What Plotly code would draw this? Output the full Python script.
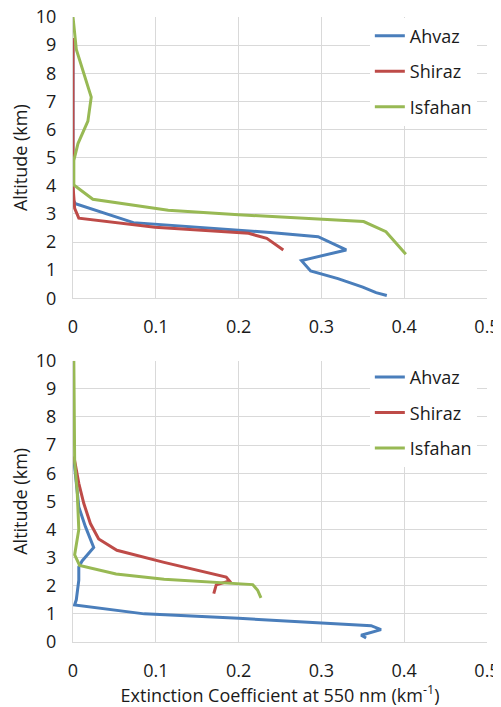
import plotly.graph_objects as go
from plotly.subplots import make_subplots

# ---- data: top panel ----
top_ahvaz_x = [0, 0, 0.003, 0.073, 0.238, 0.296, 0.330, 0.276, 0.287, 0.320, 0.350, 0.366, 0.379]
top_ahvaz_y = [9.25, 3.5, 3.36, 2.69, 2.34, 2.19, 1.72, 1.34, 0.97, 0.70, 0.40, 0.20, 0.10]
top_shiraz_x = [0, 0, 0.002, 0.007, 0.099, 0.212, 0.234, 0.254]
top_shiraz_y = [9.25, 4.0, 3.2, 2.85, 2.53, 2.31, 2.13, 1.72]
top_isfahan_x = [0, 0.004, 0.022, 0.018, 0.006, 0.001, 0.001, 0.024, 0.115, 0.200, 0.351, 0.378, 0.402]
top_isfahan_y = [10, 8.85, 7.15, 6.30, 5.50, 4.90, 4.03, 3.52, 3.13, 2.97, 2.73, 2.37, 1.57]

# ---- data: bottom panel ----
bot_ahvaz_x = [0.001, 0.007, 0.015, 0.025, 0.011, 0.007, 0.007, 0.004, 0.002, 0.086, 0.200, 0.360, 0.372, 0.348, 0.354]
bot_ahvaz_y = [6.5, 4.8, 4.1, 3.36, 2.88, 2.67, 2.2, 1.5, 1.32, 1.0, 0.84, 0.58, 0.44, 0.24, 0.14]
bot_shiraz_x = [0.001, 0.007, 0.013, 0.021, 0.031, 0.053, 0.110, 0.185, 0.189, 0.173, 0.170]
bot_shiraz_y = [6.6, 5.64, 4.93, 4.21, 3.66, 3.26, 2.83, 2.31, 2.17, 2.03, 1.72]
bot_isfahan_x = [0.001, 0.002, 0.005, 0.007, 0.002, 0.008, 0.052, 0.110, 0.217, 0.223, 0.227]
bot_isfahan_y = [10, 6.4, 5.4, 4.0, 3.1, 2.72, 2.42, 2.23, 2.04, 1.84, 1.57]

names = ["Ahvaz", "Shiraz", "Isfahan"]
colors = ["#4A7EBB", "#BE4B48", "#98B954"]
x_ticks = [0, 0.1, 0.2, 0.3, 0.4, 0.5]
x_ticktext = ["0", "0.1", "0.2", "0.3", "0.4", "0.5"]
y_ticks = list(range(0, 11))

FONT = "Open Sans"
FS = 18
TXT = "#1a1a1a"
GRID = "#d9d9d9"

fig = make_subplots(rows=2, cols=1, vertical_spacing=0.0)

top = [(top_ahvaz_x, top_ahvaz_y), (top_shiraz_x, top_shiraz_y), (top_isfahan_x, top_isfahan_y)]
bot = [(bot_ahvaz_x, bot_ahvaz_y), (bot_shiraz_x, bot_shiraz_y), (bot_isfahan_x, bot_isfahan_y)]

for i, (xs, ys) in enumerate(top):
    fig.add_trace(go.Scatter(x=xs, y=ys, mode="lines", name=names[i],
                             line=dict(color=colors[i], width=3),
                             legend="legend", legendgroup="t%d" % i), row=1, col=1)
for i, (xs, ys) in enumerate(bot):
    fig.add_trace(go.Scatter(x=xs, y=ys, mode="lines", name=names[i],
                             line=dict(color=colors[i], width=3),
                             legend="legend2", legendgroup="b%d" % i), row=2, col=1)

axis_common = dict(showgrid=True, gridcolor=GRID, gridwidth=1, zeroline=False,
                   showline=True, linecolor=GRID, linewidth=1, mirror=False,
                   tickfont=dict(family=FONT, size=FS, color=TXT), ticks="",
                   automargin=False, ticklabeloverflow="allow")

fig.update_xaxes(range=[0, 0.5], tickvals=x_ticks, ticktext=x_ticktext,
                 ticklabelstandoff=12, **axis_common)
fig.update_yaxes(range=[0, 10], tickvals=y_ticks, ticklabelstandoff=12,
                 title=dict(text="Altitude (km)", font=dict(family=FONT, size=FS, color=TXT), standoff=3),
                 **axis_common)

fig.update_layout(
    xaxis=dict(domain=[0, 1], anchor="y"),
    yaxis=dict(domain=[0.5499, 1.0]),
    xaxis2=dict(domain=[0, 1], anchor="y2",
                title=dict(text="Extinction Coefficient at 550 nm (km<sup>-1</sup>)",
                           font=dict(family=FONT, size=FS, color=TXT), standoff=16)),
    yaxis2=dict(domain=[0, 0.4501]),
)

legend_common = dict(bgcolor="white", borderwidth=0, font=dict(family=FONT, size=FS, color=TXT),
                     xanchor="left", yanchor="top", tracegroupgap=9, traceorder="grouped",
                     itemwidth=30)
fig.update_layout(
    legend=dict(x=0.717, y=0.999, **legend_common),
    legend2=dict(x=0.717, y=0.453, **legend_common),
)

# the page body has an 8px margin, so the figure is 8px smaller than the window
fig.update_layout(
    width=493, height=699,
    margin=dict(l=65, r=14, t=9, b=65, autoexpand=False),
    paper_bgcolor="white", plot_bgcolor="white",
    showlegend=True,
)

fig.write_html("out.html")
